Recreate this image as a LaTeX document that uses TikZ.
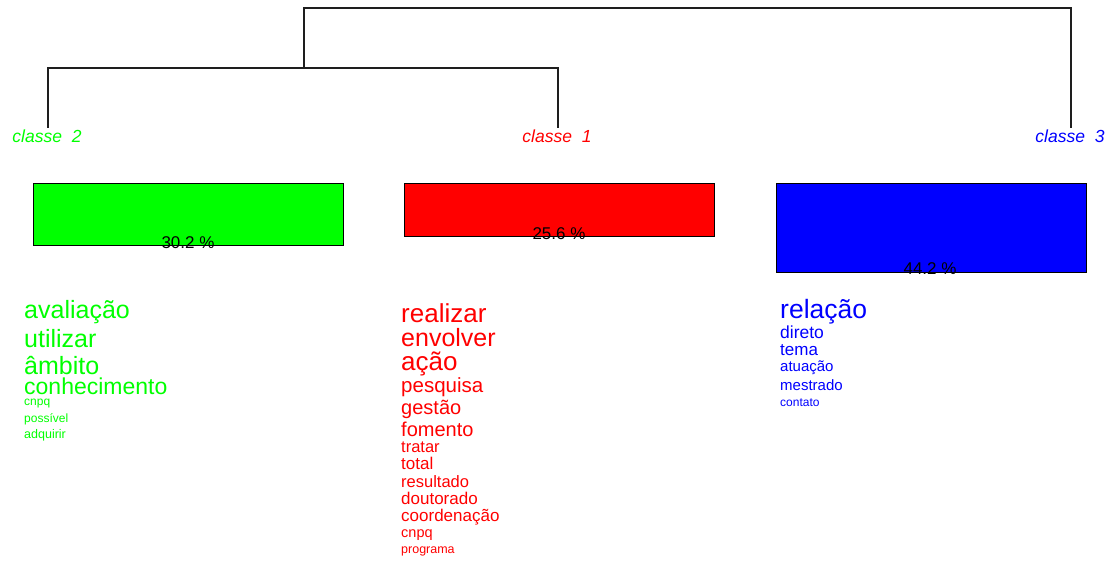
\documentclass[tikz,border=0pt]{standalone}
\usepackage{fontspec}
\setmainfont{Liberation Sans}
\newcommand{\fsz}[1]{\fontsize{#1}{#1}\selectfont}
\begin{document}
\begin{tikzpicture}[x=1pt,y=-1pt,
  word/.style={anchor=base west,inner sep=0pt},
  gw/.style={word,text={rgb,255:red,0;green,255;blue,0}},
  rw/.style={word,text={rgb,255:red,255;green,0;blue,0}},
  bw/.style={word,text={rgb,255:red,0;green,0;blue,255}},
  cls/.style={anchor=base,inner sep=0pt,font=\fsz{17.5}\itshape},
  bar/.style={draw=black,line width=1.2pt,anchor=north west,inner sep=0pt},
  pct/.style={anchor=base,inner sep=0pt,font=\fsz{17},text=black},
  tree/.style={draw={rgb,255:red,30;green,30;blue,30},line width=1.2pt}]
\useasboundingbox (0,0) rectangle (1111,561);
% dendrogram
\coordinate (top1) at (304,8);
\coordinate (top3) at (1071,8);
\coordinate (mid) at (304,68);
\coordinate (m2) at (48,68);
\coordinate (m1) at (558,68);
\coordinate (e2) at (48,128);
\coordinate (e1) at (558,128);
\coordinate (e3) at (1071,128);
\draw[tree] (mid) -- (top1) -- (top3) -- (e3);
\draw[tree] (e2) -- (m2) -- (m1) -- (e1);
% class labels
\node[cls,text={rgb,255:red,0;green,255;blue,0}] (c2) at (47,143) {classe\ \ 2};
\node[cls,text={rgb,255:red,255;green,0;blue,0}] (c1) at (557,143) {classe\ \ 1};
\node[cls,text={rgb,255:red,0;green,0;blue,255}] (c3) at (1070,143) {classe\ \ 3};
% bars
\node[bar,fill={rgb,255:red,0;green,255;blue,0},minimum width=310pt,minimum height=62pt] (b2) at (33,183) {};
\node[bar,fill={rgb,255:red,255;green,0;blue,0},minimum width=310pt,minimum height=53pt] (b1) at (404,183) {};
\node[bar,fill={rgb,255:red,0;green,0;blue,255},minimum width=310pt,minimum height=89pt] (b3) at (776,183) {};
\node[pct] (p2) at (188,248.5) {30.2 \%};
\node[pct] (p1) at (559,239.5) {25.6 \%};
\node[pct] (p3) at (930,275) {44.2 \%};
% green words
\node[gw,font=\fsz{25}] (g1) at (24,319) {avaliação};
\node[gw,font=\fsz{25}] (g2) at (24,347) {utilizar};
\node[gw,font=\fsz{25}] (g3) at (24,374) {âmbito};
\node[gw,font=\fsz{23}] (g4) at (24,394) {conhecimento};
\node[gw,font=\fsz{12}] (g5) at (24,405) {cnpq};
\node[gw,font=\fsz{12}] (g6) at (24,422) {possível};
\node[gw,font=\fsz{12.5}] (g7) at (24,438) {adquirir};
% red words
\node[rw,font=\fsz{26}] (r1) at (401,323) {realizar};
\node[rw,font=\fsz{25}] (r2) at (401,346) {envolver};
\node[rw,font=\fsz{26}] (r3) at (401,370) {ação};
\node[rw,font=\fsz{20.5}] (r4) at (401,392) {pesquisa};
\node[rw,font=\fsz{20}] (r5) at (401,414) {gestão};
\node[rw,font=\fsz{20}] (r6) at (401,436) {fomento};
\node[rw,font=\fsz{16.5}] (r7) at (401,452) {tratar};
\node[rw,font=\fsz{17}] (r8) at (401,469) {total};
\node[rw,font=\fsz{16.5}] (r9) at (401,487) {resultado};
\node[rw,font=\fsz{17}] (r10) at (401,504) {doutorado};
\node[rw,font=\fsz{17}] (r11) at (401,521) {coordenação};
\node[rw,font=\fsz{14.5}] (r12) at (401,537) {cnpq};
\node[rw,font=\fsz{12.5}] (r13) at (401,553) {programa};
% blue words
\node[bw,font=\fsz{26.5}] (u1) at (780,319) {relação};
\node[bw,font=\fsz{17.5}] (u2) at (780,338) {direto};
\node[bw,font=\fsz{17}] (u3) at (780,355) {tema};
\node[bw,font=\fsz{15}] (u4) at (780,371) {atuação};
\node[bw,font=\fsz{15}] (u5) at (780,390) {mestrado};
\node[bw,font=\fsz{12}] (u6) at (780,406) {contato};
\end{tikzpicture}
\end{document}
